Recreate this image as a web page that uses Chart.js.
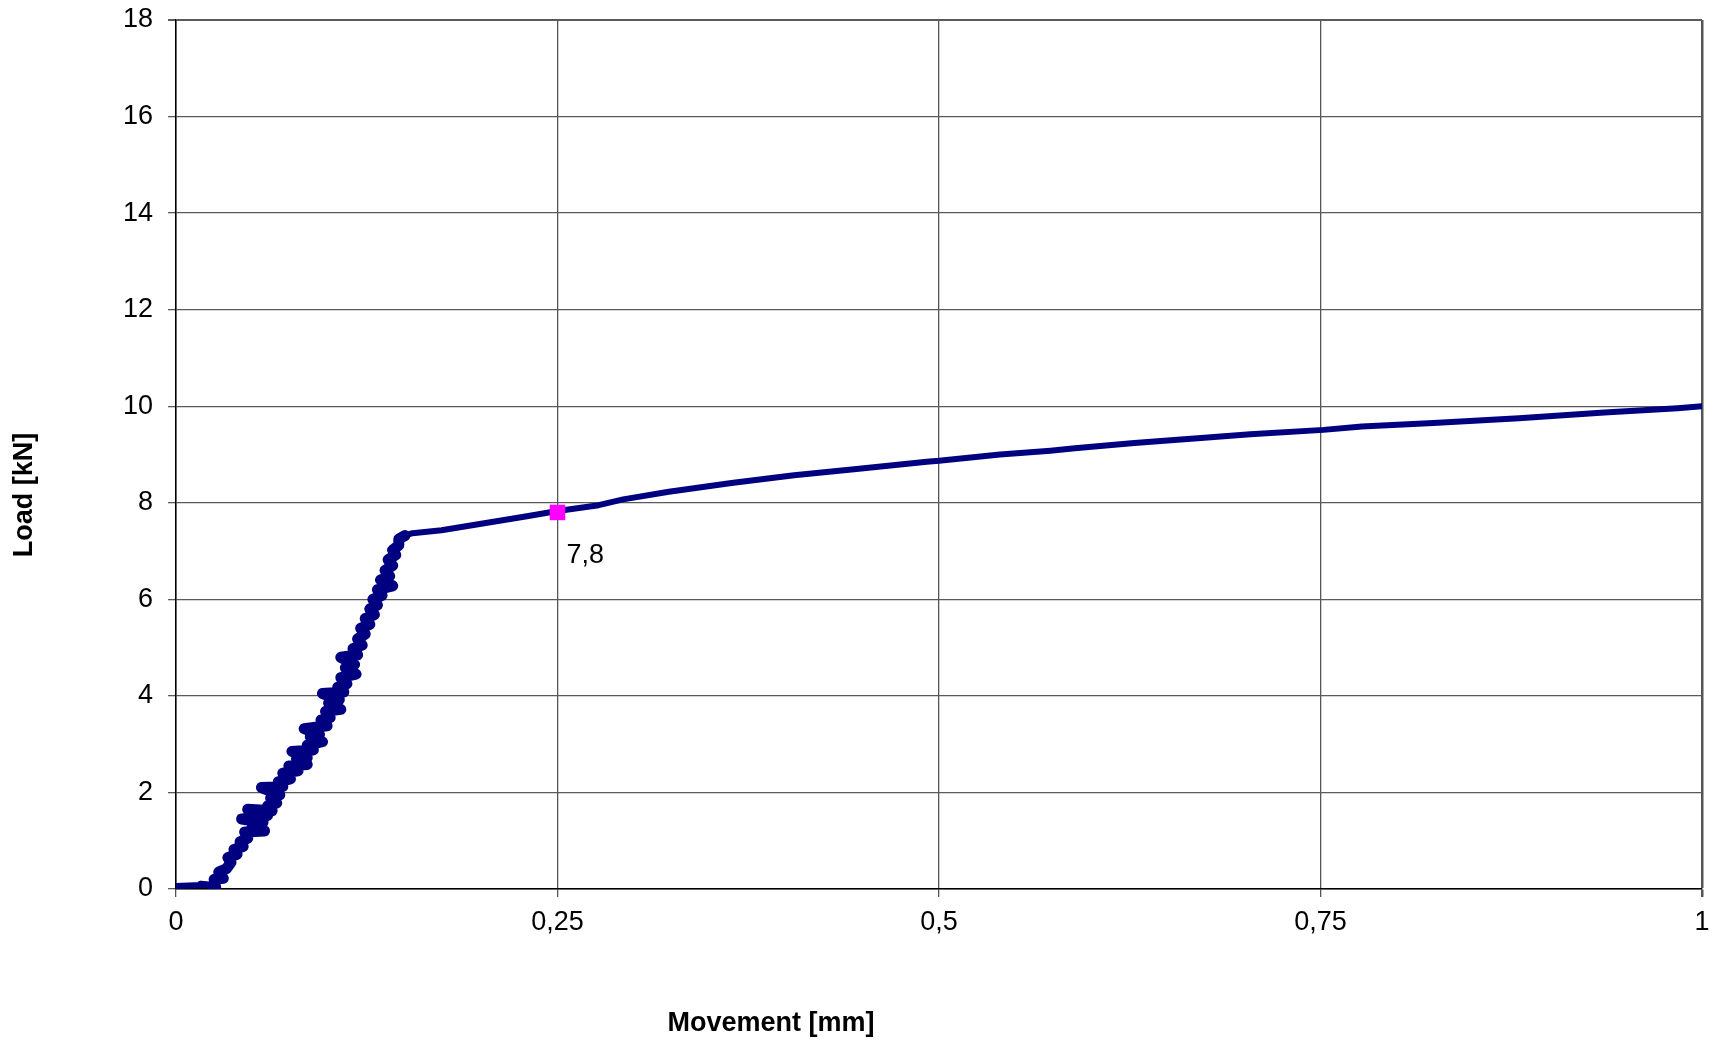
<!DOCTYPE html>
<html>
<head>
<meta charset="utf-8">
<script src="https://cdn.jsdelivr.net/npm/chart.js@4.4.1/dist/chart.umd.min.js"></script>
<style>
  html, body { margin: 0; padding: 0; background: #fff; }
  #chart { display: block; }
</style>
</head>
<body>
<canvas id="chart" width="1713" height="1044"></canvas>
<script>
// movement [mm] / load [kN]
const movement = [
    0.000, 0.012, 0.024, 0.016, 0.026, 0.025, 0.031, 0.028, 0.033, 0.036,
    0.034, 0.040, 0.038, 0.044, 0.042, 0.047, 0.045, 0.058, 0.049, 0.052,
    0.057, 0.043, 0.054, 0.060, 0.055, 0.047, 0.063, 0.060, 0.066, 0.062,
    0.068, 0.056, 0.070, 0.067, 0.075, 0.070, 0.080, 0.074, 0.086, 0.079,
    0.086, 0.076, 0.090, 0.086, 0.096, 0.088, 0.094, 0.084, 0.099, 0.095,
    0.101, 0.098, 0.108, 0.100, 0.107, 0.096, 0.110, 0.106, 0.112, 0.108,
    0.118, 0.111, 0.117, 0.108, 0.119, 0.116, 0.122, 0.119, 0.124, 0.121,
    0.127, 0.124, 0.130, 0.127, 0.132, 0.129, 0.135, 0.132, 0.142, 0.134,
    0.140, 0.137, 0.142, 0.139, 0.144, 0.142, 0.146, 0.146, 0.150, 0.155,
    0.174, 0.201, 0.228, 0.250, 0.277, 0.293, 0.323, 0.364, 0.405, 0.446,
    0.492, 0.500, 0.540, 0.573, 0.589, 0.628, 0.676, 0.704, 0.752, 0.777,
    0.824, 0.880, 0.936, 0.984, 1.000
];
const load = [
    0.06, 0.08, 0.09, 0.11, 0.03, 0.20, 0.22, 0.35, 0.42, 0.55,
    0.65, 0.72, 0.82, 0.88, 0.98, 1.05, 1.18, 1.20, 1.22, 1.35,
    1.38, 1.45, 1.48, 1.52, 1.62, 1.65, 1.62, 1.72, 1.78, 1.88,
    1.95, 2.10, 2.12, 2.22, 2.28, 2.40, 2.45, 2.55, 2.58, 2.70,
    2.72, 2.85, 2.88, 2.98, 3.05, 3.15, 3.20, 3.32, 3.38, 3.50,
    3.55, 3.68, 3.72, 3.85, 3.92, 4.05, 4.08, 4.18, 4.25, 4.38,
    4.45, 4.58, 4.65, 4.80, 4.85, 4.98, 5.05, 5.18, 5.28, 5.40,
    5.48, 5.60, 5.68, 5.80, 5.88, 6.00, 6.08, 6.20, 6.28, 6.40,
    6.48, 6.60, 6.70, 6.82, 6.92, 7.02, 7.12, 7.25, 7.32, 7.37,
    7.43, 7.57, 7.71, 7.83, 7.95, 8.07, 8.23, 8.41, 8.57, 8.70,
    8.85, 8.87, 9.00, 9.08, 9.13, 9.24, 9.35, 9.42, 9.51, 9.58,
    9.65, 9.75, 9.87, 9.96, 10.00
];
// marked point with its label
const markX = [0.25];
const markY = [7.8];
const markLabels = ["7,8"];

const xTicks = [0, 0.25, 0.5, 0.75, 1];
const yTicks = [0, 2, 4, 6, 8, 10, 12, 14, 16, 18];

const font = "'Liberation Sans', Arial, sans-serif";
const comma = v => String(v).replace('.', ',');

const titles = {
    id: 'titles',
    afterDraw(chart) {
        const c = chart.ctx;
        c.save();
        c.fillStyle = '#000';
        c.font = `bold 27px ${font}`;
        c.textAlign = 'center';
        c.textBaseline = 'middle';
        c.fillText('Movement [mm]', 771, 1024);
        c.translate(25, 495);
        c.rotate(-Math.PI / 2);
        c.fillText('Load [kN]', 0, 0);
        c.restore();

        // label of the marked point
        const xs = chart.scales.x, ys = chart.scales.y;
        c.save();
        c.font = `27px ${font}`;
        c.fillStyle = '#000';
        c.textBaseline = 'middle';
        markX.forEach((x, i) => {
            c.fillText(markLabels[i], xs.getPixelForValue(x) + 9, ys.getPixelForValue(markY[i]) + 43);
        });
        c.restore();
    }
};

new Chart(document.querySelector('#chart'), {
    type: 'scatter',
    data: {
        datasets: [
            {
                label: 'mark',
                data: markX.map((x, i) => ({ x, y: markY[i] })),
                pointStyle: 'rect',
                pointRadius: 11,
                backgroundColor: '#ff00ff',
                borderColor: '#ff00ff',
                borderWidth: 0,
                showLine: false
            },
            {
                label: 'Load',
                data: movement.map((x, i) => ({ x, y: load[i] })),
                showLine: true,
                borderColor: '#000080',
                borderWidth: 6,
                pointRadius: 0,
                tension: 0,
                borderCapStyle: 'round',
                borderJoinStyle: 'round',
                segment: {
                    // the noisy rising part reads as a wider band
                    borderWidth: s => (s.p1.parsed.x < 0.151 && s.p1.parsed.y > 0.15 ? 11 : 6)
                }
            }
        ]
    },
    options: {
        responsive: false,
        animation: false,
        devicePixelRatio: 1,
        layout: { padding: { left: 0, right: 10, top: 20, bottom: 0 } },
        plugins: {
            legend: { display: false },
            tooltip: { enabled: false }
        },
        scales: {
            x: {
                type: 'linear',
                min: 0,
                max: 1,
                afterBuildTicks: s => { s.ticks = xTicks.map(value => ({ value })); },
                afterFit: s => { s.height = 155; s.paddingLeft = 0; s.paddingRight = 0; },
                ticks: {
                    color: '#000',
                    font: { family: font, size: 27 },
                    padding: 9,
                    maxRotation: 0,
                    callback: comma
                },
                grid: {
                    color: '#555',
                    lineWidth: c => (c.tick && c.tick.value === 1 ? 2.5 : 1.3),
                    tickLength: 8
                },
                border: { color: '#000', width: 1.5 }
            },
            y: {
                type: 'linear',
                min: 0,
                max: 18,
                afterBuildTicks: s => { s.ticks = yTicks.map(value => ({ value })); },
                afterFit: s => { s.width = 176; s.paddingTop = 0; s.paddingBottom = 0; },
                ticks: {
                    color: '#000',
                    font: { family: font, size: 27 },
                    padding: 15,
                    callback: comma
                },
                grid: {
                    color: '#5a5a5a',
                    lineWidth: c => (c.tick && c.tick.value === 18 ? 2 : 1.3),
                    tickLength: 8
                },
                border: { color: '#000', width: 1.5 }
            }
        }
    },
    plugins: [titles]
});
</script>
</body>
</html>
